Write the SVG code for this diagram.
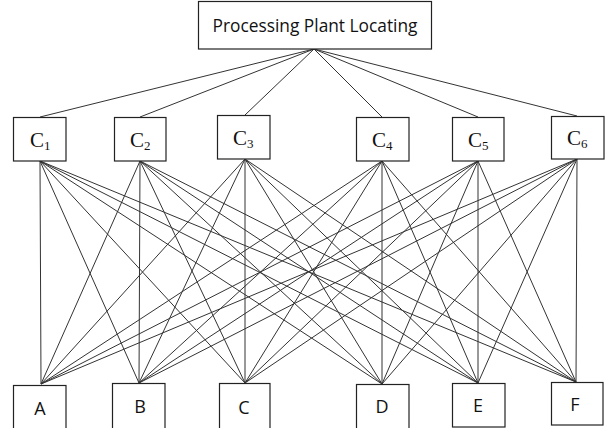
<svg xmlns="http://www.w3.org/2000/svg" width="606" height="428" viewBox="0 0 606 428">
<style>
.box{fill:#fff;stroke:#222;stroke-width:1.2}
.ln{stroke:#333;stroke-width:1;fill:none}
.t{font-family:"Open Sans","Liberation Sans",sans-serif;fill:#111;text-anchor:middle}
.c{font-family:"Liberation Serif","Times New Roman",serif;fill:#111;font-size:21px}
.s{font-size:13px}
</style>
<rect width="606" height="428" fill="#fff"/>
<g id="connectors" class="ln">
<line x1="314" y1="49" x2="40" y2="117"/>
<line x1="314" y1="49" x2="140" y2="117"/>
<line x1="314" y1="49" x2="245" y2="115"/>
<line x1="314" y1="49" x2="382" y2="117"/>
<line x1="314" y1="49" x2="478" y2="117"/>
<line x1="314" y1="49" x2="577" y2="116"/>
<g id="c1-links">
<line x1="40" y1="161" x2="41" y2="384"/><line x1="40" y1="161" x2="139" y2="383"/><line x1="40" y1="161" x2="245" y2="383"/><line x1="40" y1="161" x2="382" y2="384"/><line x1="40" y1="161" x2="478" y2="383"/><line x1="40" y1="161" x2="576" y2="382"/>
</g>
<g id="c2-links">
<line x1="140" y1="161" x2="41" y2="384"/><line x1="140" y1="161" x2="139" y2="383"/><line x1="140" y1="161" x2="245" y2="383"/><line x1="140" y1="161" x2="382" y2="384"/><line x1="140" y1="161" x2="478" y2="383"/><line x1="140" y1="161" x2="576" y2="382"/>
</g>
<g id="c3-links">
<line x1="245" y1="159" x2="41" y2="384"/><line x1="245" y1="159" x2="139" y2="383"/><line x1="245" y1="159" x2="245" y2="383"/><line x1="245" y1="159" x2="382" y2="384"/><line x1="245" y1="159" x2="478" y2="383"/><line x1="245" y1="159" x2="576" y2="382"/>
</g>
<g id="c4-links">
<line x1="382" y1="161" x2="41" y2="384"/><line x1="382" y1="161" x2="139" y2="383"/><line x1="382" y1="161" x2="245" y2="383"/><line x1="382" y1="161" x2="382" y2="384"/><line x1="382" y1="161" x2="478" y2="383"/><line x1="382" y1="161" x2="576" y2="382"/>
</g>
<g id="c5-links">
<line x1="478" y1="161" x2="41" y2="384"/><line x1="478" y1="161" x2="139" y2="383"/><line x1="478" y1="161" x2="245" y2="383"/><line x1="478" y1="161" x2="382" y2="384"/><line x1="478" y1="161" x2="478" y2="383"/><line x1="478" y1="161" x2="576" y2="382"/>
</g>
<g id="c6-links">
<line x1="577" y1="159" x2="41" y2="384"/><line x1="577" y1="159" x2="139" y2="383"/><line x1="577" y1="159" x2="245" y2="383"/><line x1="577" y1="159" x2="382" y2="384"/><line x1="577" y1="159" x2="478" y2="383"/><line x1="577" y1="159" x2="576" y2="382"/>
</g>
</g>
<g id="goal">
<rect class="box" x="198.5" y="1.5" width="233" height="47.5"/>
<text class="t" x="315" y="32" font-size="18" textLength="205" lengthAdjust="spacingAndGlyphs">Processing Plant Locating</text>
</g>
<g id="C1"><rect class="box" x="13.5" y="117.5" width="52.5" height="43.5"/><text class="c" x="30" y="147">C<tspan class="s" dy="3">1</tspan></text></g>
<g id="C2"><rect class="box" x="114.5" y="117.5" width="51.5" height="43.5"/><text class="c" x="130" y="147">C<tspan class="s" dy="3">2</tspan></text></g>
<g id="C3"><rect class="box" x="217.5" y="115.5" width="52.5" height="43.5"/><text class="c" x="233" y="145">C<tspan class="s" dy="3">3</tspan></text></g>
<g id="C4"><rect class="box" x="356.5" y="117.5" width="52.5" height="43.5"/><text class="c" x="372" y="147">C<tspan class="s" dy="3">4</tspan></text></g>
<g id="C5"><rect class="box" x="452.5" y="117.5" width="51.5" height="43.5"/><text class="c" x="468" y="147">C<tspan class="s" dy="3">5</tspan></text></g>
<g id="C6"><rect class="box" x="551.5" y="116.5" width="52.5" height="42.5"/><text class="c" x="567" y="145">C<tspan class="s" dy="3">6</tspan></text></g>
<g id="A"><rect class="box" x="13.5" y="385.5" width="52.5" height="46"/><text class="t" x="40" y="415" font-size="18">A</text></g>
<g id="B"><rect class="box" x="112.5" y="383.5" width="52.5" height="48"/><text class="t" x="140" y="413" font-size="18">B</text></g>
<g id="C"><rect class="box" x="219.5" y="383.5" width="50.5" height="48"/><text class="t" x="244" y="414" font-size="18">C</text></g>
<g id="D"><rect class="box" x="356.5" y="384.5" width="52.5" height="47"/><text class="t" x="382" y="413" font-size="18">D</text></g>
<g id="E"><rect class="box" x="452.5" y="383.5" width="52.5" height="43.5"/><text class="t" x="478" y="412" font-size="18">E</text></g>
<g id="F"><rect class="box" x="551.5" y="382.5" width="51.5" height="42.5"/><text class="t" x="575" y="411" font-size="18">F</text></g>
</svg>
